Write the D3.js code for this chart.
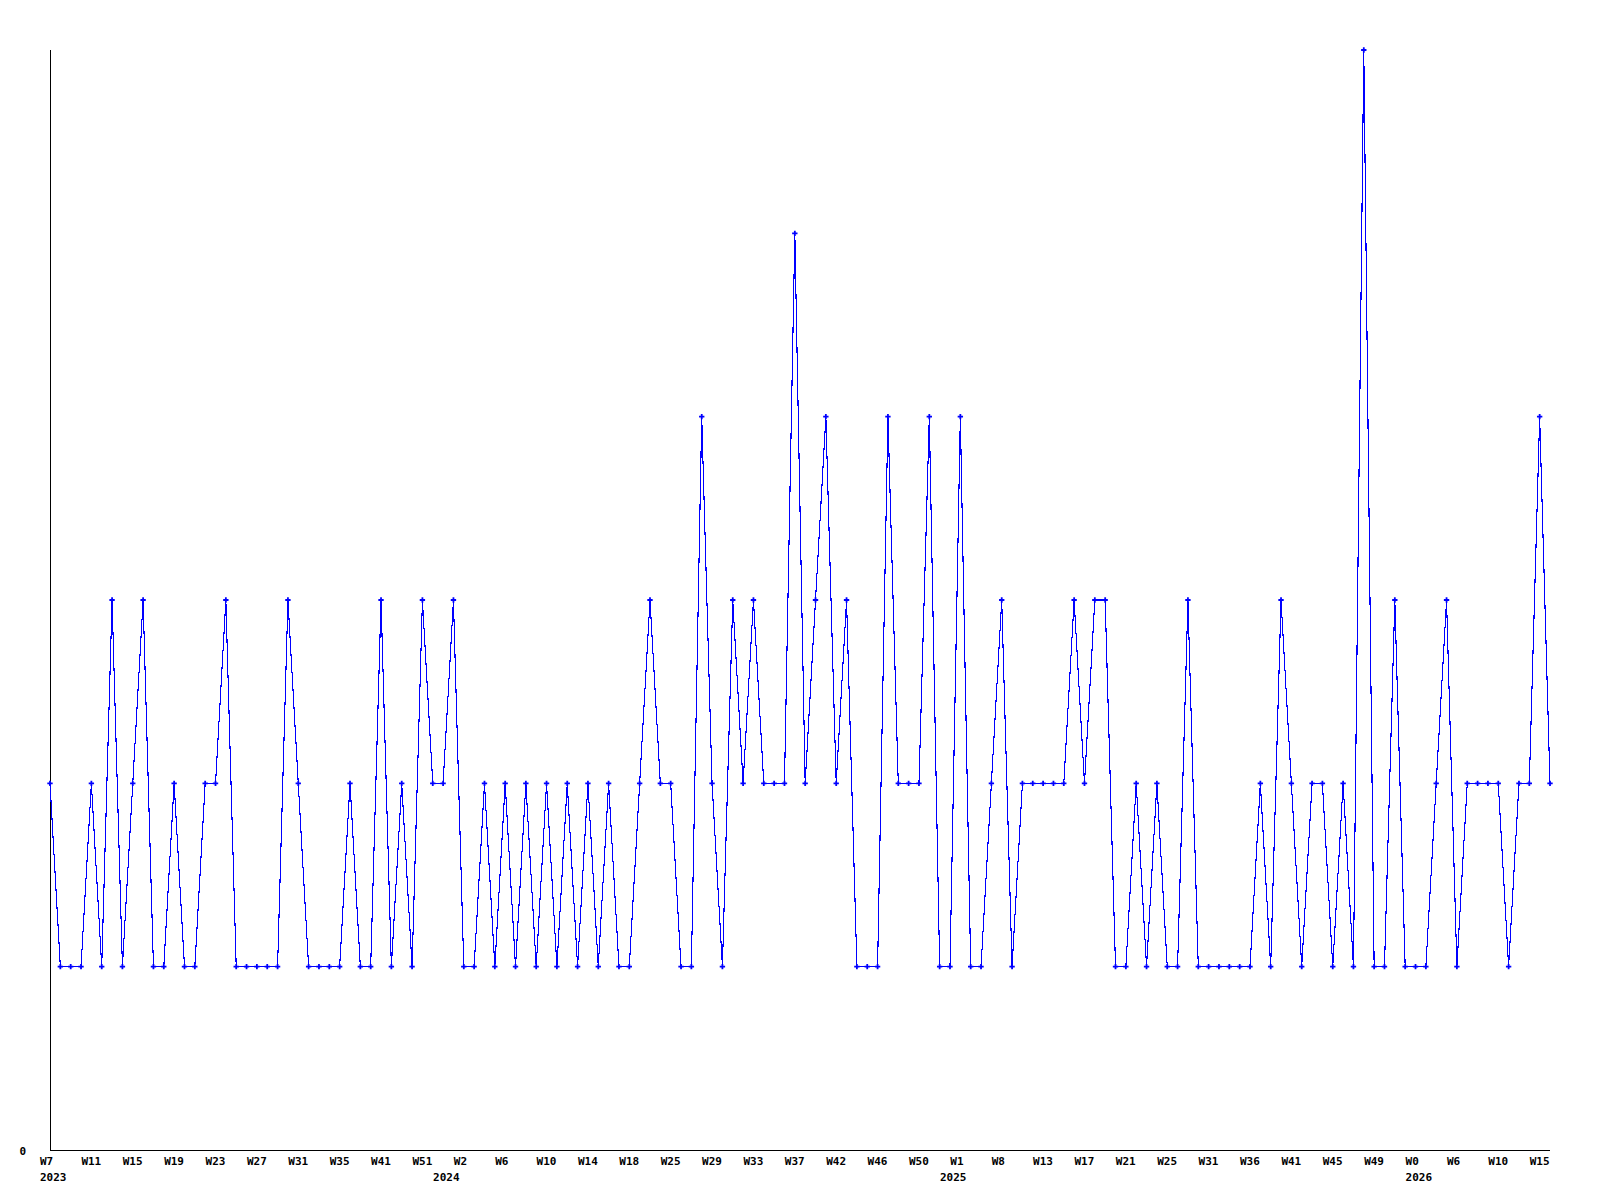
<!DOCTYPE html>
<html>
<head>
<meta charset="utf-8">
<script src="https://cdn.jsdelivr.net/npm/d3@7"></script>
<style>
  body { margin: 0; background: #fff; }
  text { font-family: "DejaVu Sans Mono", monospace; font-weight: bold; font-size: 11px; fill: #000; }
</style>
</head>
<body>
<div id="chart"></div>
<script>
// weekly counts, one per point
var values = [
  2,1,1,1,2,1,3,1,2,3, 1,1,2,1,1,2,2,3,1,1,
  1,1,1,3,2,1,1,1,1,2, 1,1,3,1,2,1,3,2,2,3,
  1,1,2,1,2,1,2,1,2,1, 2,1,2,1,2,1,1,2,3,2,
  2,1,1,4,2,1,3,2,3,2, 2,2,5,2,3,4,2,3,1,1,
  1,4,2,2,2,4,1,1,4,1, 1,2,3,1,2,2,2,2,2,3,
  2,3,3,1,1,2,1,2,1,1, 3,1,1,1,1,1,1,2,1,3,
  2,1,2,2,1,2,1,6,1,1, 3,1,1,1,2,3,1,2,2,2,
  2,1,2,2,4,2
];

// a week label on every 4th point
var weekLabels = [
  "W7","W11","W15","W19","W23","W27","W31","W35","W41","W51",
  "W2","W6","W10","W14","W18","W25","W29","W33","W37","W42",
  "W46","W50","W1","W8","W13","W17","W21","W25","W31","W36",
  "W41","W45","W49","W0","W6","W10","W15"
];
var labelStep = 4;

var yearLabels = ["2023", "2024", "2025", "2026"];
var yearIndex = [0, 38, 87, 132];

var width = 1600, height = 1200;
var margin = { top: 50, left: 50, right: 50, bottom: 50 };

var svg = d3.select("#chart").append("svg")
  .attr("width", width)
  .attr("height", height);

var x = d3.scaleLinear()
  .domain([0, values.length - 1])
  .range([margin.left, width - margin.right]);

var y = d3.scaleLinear()
  .domain([0, 6])
  .range([height - margin.bottom, margin.top]);

// axes
svg.append("line")
  .attr("x1", x(0) + 0.5).attr("x2", x(0) + 0.5)
  .attr("y1", y(6)).attr("y2", y(0))
  .attr("stroke", "#000");

svg.append("line")
  .attr("x1", x(0)).attr("x2", x(values.length - 1))
  .attr("y1", y(0) + 0.5).attr("y2", y(0) + 0.5)
  .attr("stroke", "#000");

svg.append("text")
  .attr("x", 26)
  .attr("y", y(0) + 5)
  .attr("text-anchor", "end")
  .text("0");

svg.selectAll(".wk")
  .data(weekLabels)
  .enter().append("text")
  .attr("class", "wk")
  .attr("x", (d, i) => x(i * labelStep) - 10)
  .attr("y", y(0) + 15)
  .text(d => d);

svg.selectAll(".yr")
  .data(yearLabels)
  .enter().append("text")
  .attr("class", "yr")
  .attr("x", (d, i) => x(yearIndex[i]) - 10)
  .attr("y", y(0) + 31)
  .text(d => d);

// series
var line = d3.line()
  .x((d, i) => x(i))
  .y(d => y(d));

svg.append("path")
  .datum(values)
  .attr("d", line)
  .attr("fill", "none")
  .attr("stroke", "#0000ff")
  .attr("stroke-width", 1.1)
  .attr("shape-rendering", "crispEdges");

svg.selectAll(".pt")
  .data(values)
  .enter().append("path")
  .attr("class", "pt")
  .attr("transform", (d, i) => "translate(" + x(i) + "," + y(d) + ")")
  .attr("d", d3.symbol().type(d3.symbolCross).size(16))
  .attr("fill", "#0000ff");
</script>
</body>
</html>
